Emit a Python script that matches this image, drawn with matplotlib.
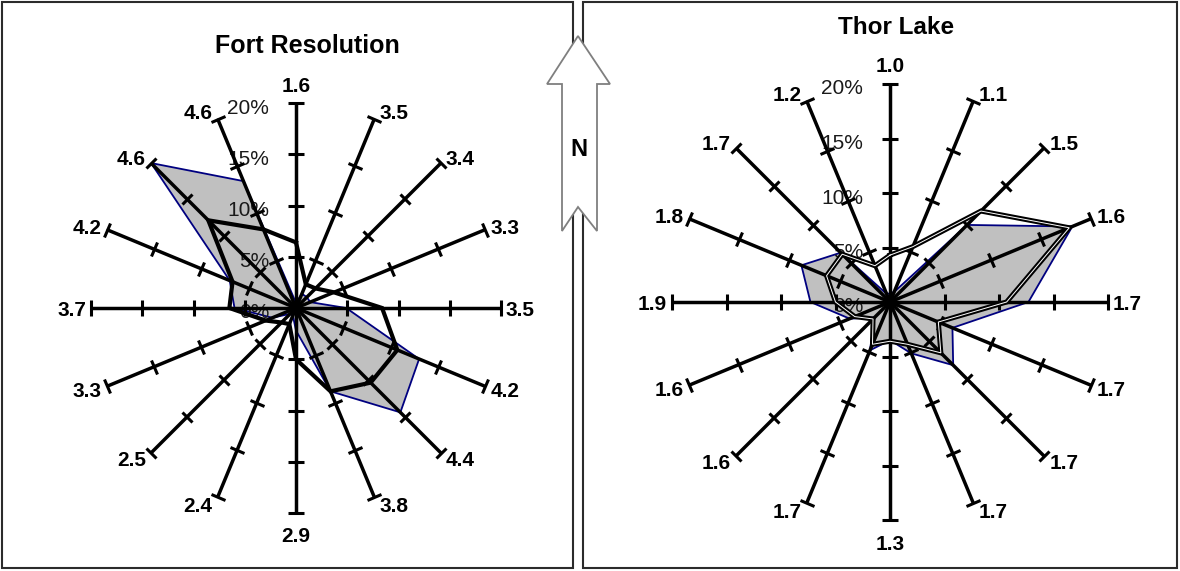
import numpy as np
import matplotlib
matplotlib.use("Agg")
import matplotlib.pyplot as plt
from matplotlib.markers import MarkerStyle
from matplotlib.transforms import Affine2D
from matplotlib.patches import Rectangle, Polygon

plt.rcParams['font.family'] = ['Liberation Sans', 'DejaVu Sans']

# ---------------- data ----------------
directions = ['N', 'NNE', 'NE', 'ENE', 'E', 'ESE', 'SE', 'SSE',
              'S', 'SSW', 'SW', 'WSW', 'W', 'WNW', 'NW', 'NNW']
pct_ticks = [0, 5, 10, 15, 20]

fort_title = 'Fort Resolution'
fort_speed_labels = ['1.6', '3.5', '3.4', '3.3', '3.5', '4.2', '4.4', '3.8',
                     '2.9', '2.4', '2.5', '3.3', '3.7', '4.2', '4.6', '4.6']
fort_area = [0.5, 1.5, 1.5, 1.5, 4.9, 13.0, 14.4, 8.8,
             2.2, 0.8, 0.8, 2.5, 6.0, 7.0, 20.0, 13.4]
fort_line = [6.4, 2.5, 2.7, 4.0, 8.4, 10.7, 10.3, 8.8,
             5.0, 1.7, 2.0, 3.2, 6.5, 6.7, 12.1, 8.3]

thor_title = 'Thor Lake'
thor_speed_labels = ['1.0', '1.1', '1.5', '1.6', '1.7', '1.7', '1.7', '1.7',
                     '1.3', '1.7', '1.6', '1.6', '1.9', '1.8', '1.7', '1.2']
thor_area = [0.8, 1.0, 10.0, 18.1, 12.7, 6.2, 8.2, 5.1,
             3.5, 4.8, 2.0, 4.0, 7.3, 8.8, 6.4, 0.8]
thor_line = [4.3, 5.5, 11.8, 17.8, 10.7, 4.8, 6.6, 4.2,
             3.6, 4.2, 2.2, 3.5, 5.0, 6.3, 6.2, 3.6]

# ---------------- figure ----------------
W, H = 1180, 571
fig = plt.figure(figsize=(W / 100, H / 100), dpi=100)
PT = 0.72  # points per pixel at dpi 100


def frame(x0, y0, x1, y1):
    fig.add_artist(Rectangle((x0 / W, 1 - y1 / H), (x1 - x0) / W, (y1 - y0) / H,
                             transform=fig.transFigure, fill=False,
                             ec='#2b2b2b', lw=1.5, zorder=1))


frame(2, 2, 573, 568)
frame(583, 2, 1177, 568)


def draw_rose(cx, cy, R, area, line, labels, double_line):
    ax = fig.add_axes([(cx - R) / W, (H - cy - R) / H, 2 * R / W, 2 * R / H],
                      projection='polar')
    ax.set_theta_zero_location('N')
    ax.set_theta_direction(-1)
    rmax = pct_ticks[-1]
    ax.set_ylim(0, rmax)
    ax.axis('off')
    n = len(directions)
    deg = np.arange(n) * 360.0 / n
    th = np.deg2rad(deg)
    thc = np.append(th, th[0])

    ax.fill(thc, np.append(area, area[0]), facecolor='#C0C0C0',
            edgecolor='#000080', lw=1.3, zorder=1, clip_on=False)

    # percent labels (under spokes)
    for v in pct_ticks:
        ax.annotate(f'{v}%', xy=(0, v), xytext=(-27 * PT, -5 * PT),
                    textcoords='offset points', ha='right', va='center',
                    fontsize=15, color='#1a1a1a', zorder=2)

    for i, t in enumerate(th):
        ax.plot([t, t], [0, rmax], color='black', lw=2.5,
                solid_capstyle='butt', zorder=3, clip_on=False)
        mk = MarkerStyle('_', transform=Affine2D().rotate_deg(-deg[i]))
        ax.plot([t] * (len(pct_ticks) - 1), pct_ticks[1:], ls='none', marker=mk,
                ms=11, mew=2.2, color='black', zorder=3, clip_on=False)

    lc = np.append(line, line[0])
    if double_line:
        ax.plot(thc, lc, color='black', lw=3.6, zorder=4, clip_on=False,
                solid_joinstyle='miter')
        ax.plot(thc, lc, color='white', lw=0.7, zorder=5, clip_on=False,
                solid_joinstyle='miter')
    else:
        ax.plot(thc, lc, color='black', lw=3.0, zorder=4, clip_on=False,
                solid_joinstyle='miter')

    # direction (speed) labels
    for i, t in enumerate(th):
        s, c = np.sin(t), np.cos(t)
        if abs(s) < 0.2:
            dx, dy = 0, (17 if c > 0 else -24)
            ha = 'center'
        else:
            dx = 5 if s > 0 else -5
            dy = c * 8 - 2
            ha = 'left' if s > 0 else 'right'
        ax.annotate(labels[i], xy=(t, rmax), xytext=(dx * PT, dy * PT),
                    textcoords='offset points', ha=ha, va='center',
                    fontsize=15, fontweight='bold', color='black',
                    annotation_clip=False, zorder=6)
    return ax


draw_rose(296, 308, 205, fort_area, fort_line, fort_speed_labels, False)
draw_rose(890, 302, 218, thor_area, thor_line, thor_speed_labels, True)

fig.text(307 / W, 1 - 46 / H, fort_title, ha='center', va='center',
         fontsize=18, fontweight='bold')
fig.text(896 / W, 1 - 28 / H, thor_title, ha='center', va='center',
         fontsize=17.5, fontweight='bold')

# North arrow
arrow_px = [(578, 36), (610, 84), (597, 84), (597, 231), (578, 207),
            (562, 231), (562, 84), (547, 84)]
fig.add_artist(Polygon([(x / W, 1 - y / H) for x, y in arrow_px], closed=True,
                       transform=fig.transFigure, facecolor='white',
                       edgecolor='#7f7f7f', lw=1.3, zorder=5))
fig.text(579 / W, 1 - 149 / H, 'N', ha='center', va='center', fontsize=17,
         fontweight='bold', zorder=6)

fig.savefig('out.png', dpi=100)
